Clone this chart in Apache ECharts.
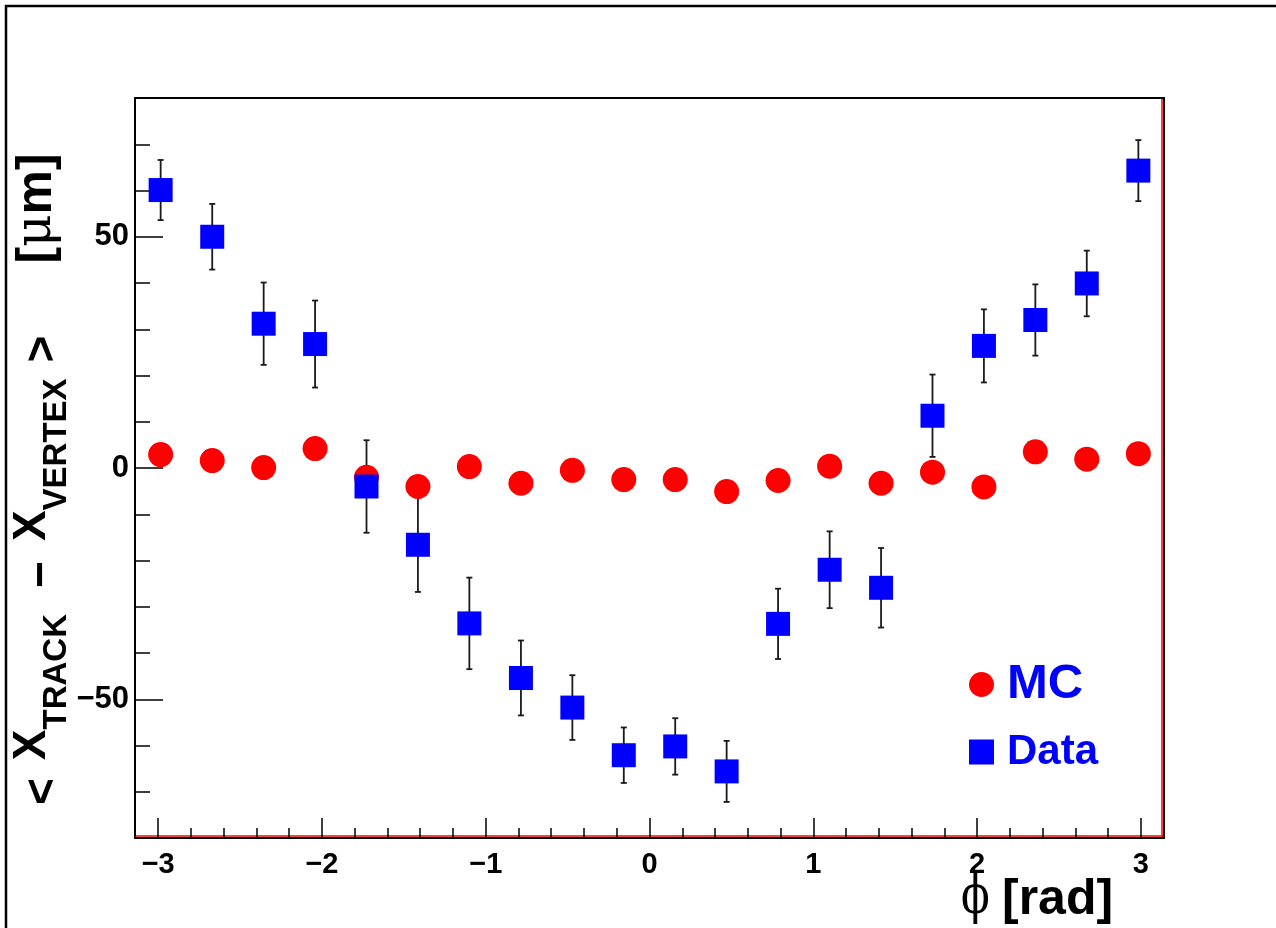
<!DOCTYPE html>
<html>
<head>
<meta charset="utf-8">
<script src="https://cdn.jsdelivr.net/npm/echarts@6/dist/echarts.min.js"></script>
<style>
  html, body { margin: 0; padding: 0; background: #fff; }
  #chart { width: 1276px; height: 928px; }
</style>
</head>
<body>
<div id="chart"></div>
<script>
// ---- data ----
const phiBins = [-2.985, -2.670, -2.356, -2.042, -1.728, -1.414, -1.100, -0.785, -0.471, -0.157,
                 0.157, 0.471, 0.785, 1.100, 1.414, 1.728, 2.042, 2.356, 2.670, 2.985];
const mcValues = [2.9, 1.6, 0.1, 4.2, -2.0, -4.0, 0.3, -3.3, -0.5, -2.5,
                  -2.5, -5.1, -2.7, 0.4, -3.3, -0.9, -4.1, 3.5, 1.9, 3.1];
const dataValues = [60.1, 50.0, 31.2, 26.8, -4.0, -16.6, -33.6, -45.4, -51.8, -62.1,
                    -60.2, -65.6, -33.7, -22.0, -25.9, 11.3, 26.4, 32.0, 39.9, 64.3];
const dataErrors = [6.5, 7.1, 8.9, 9.4, 10.0, 10.2, 9.9, 8.1, 7.0, 6.0,
                    6.1, 6.6, 7.6, 8.3, 8.6, 8.9, 7.9, 7.7, 7.1, 6.6];
const xMajorTicks = [-3, -2, -1, 0, 1, 2, 3];
const xMinorTicks = [-2.8, -2.6, -2.4, -2.2, -1.8, -1.6, -1.4, -1.2, -0.8, -0.6, -0.4, -0.2,
                     0.2, 0.4, 0.6, 0.8, 1.2, 1.4, 1.6, 1.8, 2.2, 2.4, 2.6, 2.8];
const yMajorTicks = [-50, 0, 50];
const yMinorTicks = [-70, -60, -40, -30, -20, -10, 10, 20, 30, 40, 60, 70];
const yMin = -80, yMax = 80;
const xMin = -Math.PI, xMax = Math.PI;

// ---- layout ----
const G = { left: 135, top: 98, right: 1164, bottom: 838 };
const FONT = '"Liberation Sans", Arial, Helvetica, sans-serif';
const fmtNum = v => (v < 0 ? '\u2212' + Math.abs(v) : String(v));

const chart = echarts.init(document.getElementById('chart'), null, { renderer: 'canvas' });

const tickStyle = { color: '#000', width: 1.5 };
const hiddenLine = { show: false, onZero: false };

const option = {
  animation: false,
  backgroundColor: '#ffffff',
  grid: {
    left: G.left, top: G.top, width: G.right - G.left, height: G.bottom - G.top,
    show: true, borderColor: '#000', borderWidth: 2, backgroundColor: 'transparent'
  },
  xAxis: [
    {
      type: 'value', min: xMin, max: xMax, position: 'bottom',
      axisLine: hiddenLine,
      splitLine: { show: false },
      axisTick: { show: true, inside: true, length: 20, lineStyle: tickStyle, customValues: xMajorTicks },
      axisLabel: {
        show: true, customValues: xMajorTicks, formatter: fmtNum, margin: 12,
        color: '#000', fontFamily: FONT, fontWeight: 'bold', fontSize: 29
      }
    },
    {
      type: 'value', min: xMin, max: xMax, position: 'bottom', offset: 0,
      axisLine: hiddenLine,
      splitLine: { show: false },
      axisTick: { show: true, inside: true, length: 10, lineStyle: tickStyle, customValues: xMinorTicks },
      axisLabel: { show: false }
    }
  ],
  yAxis: [
    {
      type: 'value', min: yMin, max: yMax, position: 'left',
      axisLine: hiddenLine,
      splitLine: { show: false },
      axisTick: { show: true, inside: true, length: 28, lineStyle: tickStyle, customValues: yMajorTicks },
      axisLabel: {
        show: true, customValues: yMajorTicks, formatter: fmtNum, margin: 6,
        color: '#000', fontFamily: FONT, fontWeight: 'bold', fontSize: 31
      }
    },
    {
      type: 'value', min: yMin, max: yMax, position: 'left', offset: 0,
      axisLine: hiddenLine,
      splitLine: { show: false },
      axisTick: { show: true, inside: true, length: 15, lineStyle: tickStyle, customValues: yMinorTicks },
      axisLabel: { show: false }
    }
  ],
  legend: {
    orient: 'vertical', left: 964, top: 655,
    itemWidth: 25, itemHeight: 25, itemGap: 22,
    selectedMode: false,
    textStyle: { color: '#0000ff', fontWeight: 'bold', fontFamily: FONT, padding: [0, 0, 0, 8] },
    data: [
      { name: 'MC', icon: 'circle', textStyle: { fontSize: 49, lineHeight: 48 } },
      { name: 'Data', icon: 'rect', textStyle: { fontSize: 42, lineHeight: 42 } }
    ]
  },
  series: [
    {
      name: 'MC', type: 'scatter', xAxisIndex: 0, yAxisIndex: 0,
      symbol: 'circle', symbolSize: 25,
      itemStyle: { color: '#ff0000', opacity: 1 },
      data: phiBins.map((p, i) => [p, mcValues[i]])
    },
    {
      name: 'errors', type: 'custom', xAxisIndex: 0, yAxisIndex: 0,
      renderItem: function (params, api) {
        const x = api.value(0), y = api.value(1), e = api.value(2);
        const t = api.coord([x, y + e]);
        const b = api.coord([x, y - e]);
        const cap = 3;
        const st = { stroke: '#1a1a1a', lineWidth: 1.8 };
        return {
          type: 'group', children: [
            { type: 'line', shape: { x1: t[0], y1: t[1], x2: b[0], y2: b[1] }, style: st },
            { type: 'line', shape: { x1: t[0] - cap, y1: t[1], x2: t[0] + cap, y2: t[1] }, style: st },
            { type: 'line', shape: { x1: b[0] - cap, y1: b[1], x2: b[0] + cap, y2: b[1] }, style: st }
          ]
        };
      },
      data: phiBins.map((p, i) => [p, dataValues[i], dataErrors[i]])
    },
    {
      name: 'Data', type: 'scatter', xAxisIndex: 0, yAxisIndex: 0,
      symbol: 'rect', symbolSize: 24,
      itemStyle: { color: '#0000ff', opacity: 1 },
      data: phiBins.map((p, i) => [p, dataValues[i]])
    }
  ],
  graphic: [
    // outer canvas frame
    { type: 'polyline', silent: true, shape: { points: [[6, 928], [6, 6], [1276, 6]] },
      style: { stroke: '#000', lineWidth: 2.5, fill: null } },
    // red inner lines (right and bottom)
    { type: 'line', silent: true, shape: { x1: G.right - 2, y1: G.top + 1, x2: G.right - 2, y2: G.bottom - 1 },
      style: { stroke: '#ff0000', lineWidth: 1.5 } },
    { type: 'line', silent: true, shape: { x1: G.left + 1, y1: G.bottom - 2, x2: G.right - 1, y2: G.bottom - 2 },
      style: { stroke: '#ff0000', lineWidth: 1.5 } },
    // y-axis title
    {
      type: 'text', silent: true, x: 4, y: 805, rotation: Math.PI / 2,
      style: {
        text: '{lt|<}{b|X}{s|TRACK}{m|\u2212}{b2|X}{s2|VERTEX}{gt|>}{u1|[}{mu|\u03bc}{u2|m]}',
        align: 'left', verticalAlign: 'top', fill: '#000',
        rich: {
          lt: { fontSize: 46, fontWeight: 'bold', fontFamily: FONT, lineHeight: 46, verticalAlign: 'top', padding: [16, 0, 0, 0] },
          b: { fontSize: 46, fontWeight: 'bold', fontFamily: FONT, lineHeight: 46, verticalAlign: 'top', padding: [5, 0, 0, 18] },
          s: { fontSize: 33, fontWeight: 'bold', fontFamily: FONT, lineHeight: 33, verticalAlign: 'top', padding: [36, 0, 0, 0] },
          m: { fontSize: 46, fontWeight: 'bold', fontFamily: FONT, lineHeight: 46, verticalAlign: 'top', padding: [15, 0, 0, 26] },
          b2: { fontSize: 46, fontWeight: 'bold', fontFamily: FONT, lineHeight: 46, verticalAlign: 'top', padding: [5, 0, 0, 20] },
          s2: { fontSize: 33, fontWeight: 'bold', fontFamily: FONT, lineHeight: 33, verticalAlign: 'top', padding: [36, 0, 0, 0] },
          gt: { fontSize: 46, fontWeight: 'bold', fontFamily: FONT, lineHeight: 46, verticalAlign: 'top', padding: [16, 0, 0, 16] },
          u1: { fontSize: 50, fontWeight: 'bold', fontFamily: FONT, lineHeight: 50, verticalAlign: 'top', padding: [8, 0, 0, 72] },
          mu: { fontSize: 50, fontWeight: 'normal', fontFamily: '"DejaVu Serif", serif', lineHeight: 50, verticalAlign: 'top', padding: [8, 0, 0, 0] },
          u2: { fontSize: 50, fontWeight: 'bold', fontFamily: FONT, lineHeight: 50, verticalAlign: 'top', padding: [8, 0, 0, 0] }
        }
      }
    },
    // x-axis title
    {
      type: 'text', silent: true, x: 961, y: 872, scaleX: 0.78,
      style: { text: '\u03d5', fill: '#000', fontSize: 54, fontWeight: 'normal', fontFamily: '"DejaVu Serif", serif',
               align: 'left', verticalAlign: 'top' }
    },
    {
      type: 'text', silent: true, x: 1002, y: 875,
      style: { text: '[rad]', fill: '#000', fontSize: 50, fontWeight: 'bold', fontFamily: FONT,
               align: 'left', verticalAlign: 'top' }
    }
  ]
};

chart.setOption(option);
</script>
</body>
</html>
